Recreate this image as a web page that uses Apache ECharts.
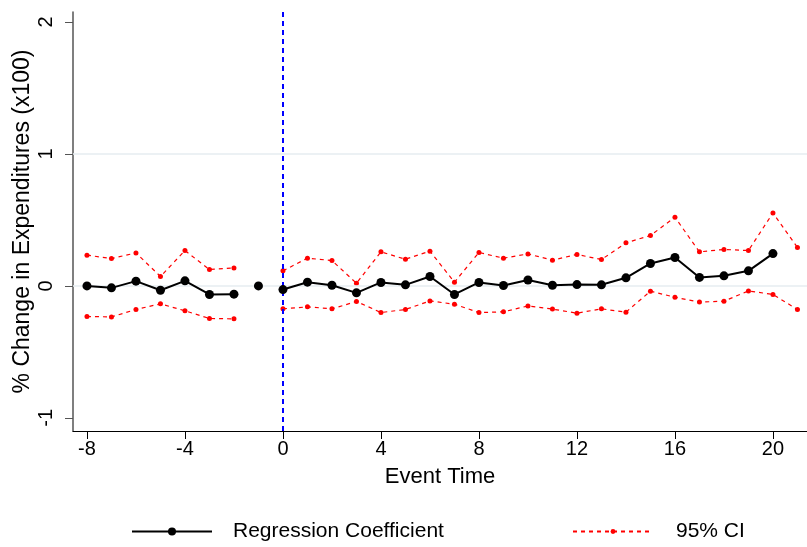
<!DOCTYPE html>
<html>
<head>
<meta charset="utf-8">
<script src="https://cdn.jsdelivr.net/npm/echarts@6/dist/echarts.min.js"></script>
<style>
html, body { margin: 0; padding: 0; background: #fff; }
#chart { width: 807px; height: 547px; }
</style>
</head>
<body>
<div id="chart"></div>
<script>
// event time, -1 is the reference period (no CI)
var eventTime = [-8, -7, -6, -5, -4, -3, -2, -1, 0, 1, 2, 3, 4, 5, 6, 7, 8, 9, 10, 11, 12, 13, 14, 15, 16, 17, 18, 19, 20, 21];
var coef = [0.0, -0.015, 0.036, -0.033, 0.038, -0.065, -0.063, 0.0, -0.028, 0.028, 0.005, -0.053, 0.026, 0.008, 0.071, -0.065, 0.026, 0.003, 0.045, 0.005, 0.01, 0.008, 0.061, 0.17, 0.215, 0.064, 0.076, 0.114, 0.245, null];
var ciUpper = [0.233, 0.207, 0.25, 0.071, 0.268, 0.124, 0.136, null, 0.114, 0.21, 0.192, 0.02, 0.258, 0.202, 0.263, 0.028, 0.253, 0.21, 0.242, 0.195, 0.238, 0.2, 0.326, 0.382, 0.52, 0.258, 0.276, 0.268, 0.553, 0.291];
var ciLower = [-0.232, -0.235, -0.179, -0.136, -0.189, -0.247, -0.25, null, -0.174, -0.159, -0.174, -0.118, -0.202, -0.179, -0.114, -0.139, -0.202, -0.197, -0.152, -0.176, -0.207, -0.174, -0.199, -0.04, -0.086, -0.123, -0.116, -0.038, -0.065, -0.179];
var xTicks = [-8, -4, 0, 4, 8, 12, 16, 20];
var yTicks = [-1, 0, 1, 2];

var font = 'Liberation Sans, Arial, sans-serif';

function pairs(vals, keep) {
	var out = [];
	for (var i = 0; i < eventTime.length; i++) {
		if (keep && !keep(eventTime[i])) continue;
		out.push([eventTime[i], vals[i] == null ? '-' : vals[i]]);
	}
	return out;
}

var coefStyle = {
	name: 'Regression Coefficient',
	type: 'line',
	symbol: 'circle',
	symbolSize: 9,
	showAllSymbol: true,
	connectNulls: false,
	z: 5,
	itemStyle: { color: '#000' },
	lineStyle: { color: '#000', width: 2 }
};

function coefSeries(keep) {
	var s = Object.assign({}, coefStyle);
	s.data = pairs(coef, keep);
	return s;
}

function ciSeries(vals) {
	return {
		name: '95% CI',
		type: 'line',
		symbol: 'circle',
		symbolSize: 5,
		showAllSymbol: true,
		connectNulls: false,
		z: 4,
		itemStyle: { color: '#ff0000' },
		lineStyle: { color: '#ff0000', width: 1.2, type: [4, 4] },
		data: pairs(vals)
	};
}

var myChart = echarts.init(document.getElementById('chart'));
myChart.setOption({
	backgroundColor: '#fff',
	animation: false,
	grid: {
		left: 73,
		right: 0,
		top: 12,
		bottom: 116,
		outerBoundsMode: 'none'
	},
	xAxis: {
		type: 'value',
		min: -8.57,
		max: 21.39,
		name: 'Event Time',
		nameLocation: 'middle',
		nameGap: 35,
		nameMoveOverlap: false,
		nameTextStyle: { fontFamily: font, fontSize: 22, color: '#000' },
		axisLine: { show: true, onZero: false, lineStyle: { color: '#000', width: 1.2 } },
		axisTick: { show: true, length: 8, lineStyle: { color: '#000' }, customValues: xTicks },
		axisLabel: { fontFamily: font, fontSize: 20, color: '#000', margin: 8, customValues: xTicks },
		splitLine: { show: false }
	},
	yAxis: {
		type: 'value',
		min: -1.1,
		max: 2.076,
		name: '% Change in Expenditures (x100)',
		nameLocation: 'middle',
		nameGap: 39,
		nameMoveOverlap: false,
		nameTextStyle: { fontFamily: font, fontSize: 23, color: '#000' },
		axisLine: { show: true, onZero: false, lineStyle: { color: '#555', width: 1.5 } },
		axisTick: { show: true, length: 8, lineStyle: { color: '#555' }, customValues: yTicks },
		axisLabel: { fontFamily: font, fontSize: 20, color: '#000', rotate: 90, margin: 17, customValues: yTicks },
		splitLine: { show: false }
	},
	legend: [{
		data: ['Regression Coefficient'],
		left: 126,
		top: 516,
		itemWidth: 80,
		itemHeight: 10,
		textStyle: { fontFamily: font, fontSize: 21, color: '#000', padding: [0, 0, 0, 16] }
	}, {
		data: ['95% CI'],
		left: 567,
		top: 516,
		itemWidth: 80,
		itemHeight: 6,
		textStyle: { fontFamily: font, fontSize: 21, color: '#000', padding: [0, 0, 0, 18] }
	}],
	series: [{
		// grid lines + reference line
		type: 'line',
		data: [],
		z: 1,
		markLine: {
			silent: true,
			symbol: 'none',
			label: { show: false },
			animation: false,
			data: [{
				yAxis: 0,
				lineStyle: { color: '#e6edf1', width: 1.5, type: 'solid' }
			}, {
				yAxis: 1,
				lineStyle: { color: '#e6edf1', width: 1.5, type: 'solid' }
			}, {
				xAxis: 0,
				lineStyle: { color: '#0000ff', width: 2, type: [5, 4] }
			}]
		}
	},
		ciSeries(ciUpper),
		ciSeries(ciLower),
		coefSeries(function (t) { return t < -1; }),
		coefSeries(function (t) { return t == -1; }),
		coefSeries(function (t) { return t >= 0; })
	]
});
</script>
</body>
</html>
